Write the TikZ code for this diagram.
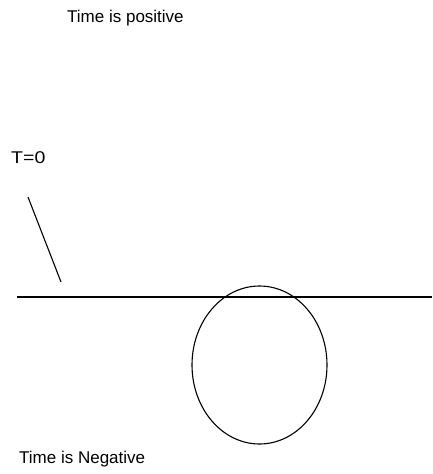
\documentclass[tikz,border=0pt]{standalone}
\usepackage{fontspec}
\setmainfont{Liberation Sans}
\usetikzlibrary{shapes.geometric}
\begin{document}
\begin{tikzpicture}[x=1pt,y=-1pt,
  lbl/.style={inner sep=0pt,anchor=west,font=\fontsize{17}{20}\selectfont},
  ln/.style={line width=1.1pt,black}]
\useasboundingbox (0,0) rectangle (432,474);
\node[lbl] (pos) at (67,18) {Time is positive};
\node[lbl,xscale=1.15] (t0) at (11,158) {T=0};
\node[lbl] (neg) at (19,459) {Time is Negative};
\coordinate (s1) at (28,197);
\coordinate (s2) at (61,282);
\draw[ln] (s1) -- (s2);
\coordinate (h1) at (17,297);
\coordinate (h2) at (432,297);
\draw[ln] (h1) -- (h2);
\node[draw,line width=1.1pt,ellipse,minimum width=135pt,minimum height=158pt,inner sep=0pt] (e) at (259.5,365) {};
\end{tikzpicture}
\end{document}
